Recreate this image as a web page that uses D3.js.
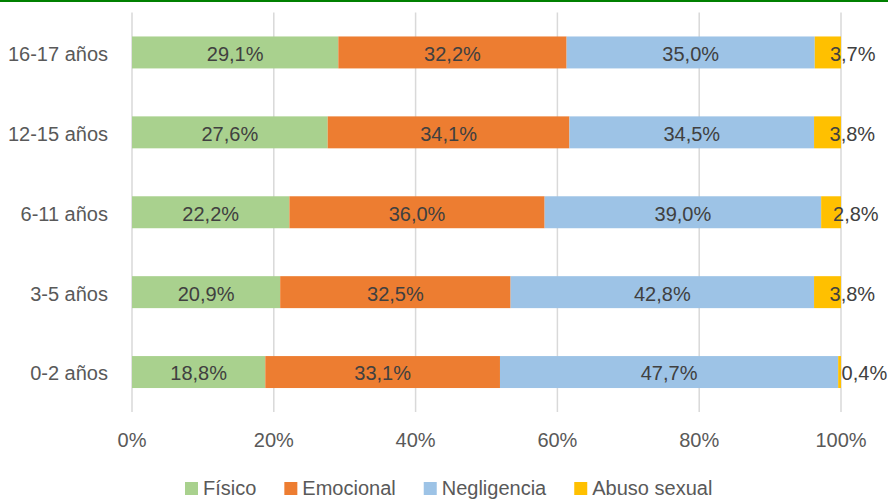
<!DOCTYPE html>
<html>
<head>
<meta charset="utf-8">
<script src="https://cdn.jsdelivr.net/npm/d3@7"></script>
<style>
    body { margin: 0; background: #fff; }
    svg { display: block; font-family: "Liberation Sans", Arial, sans-serif; }
</style>
</head>
<body>
<div id="chart"></div>
<script>
// data
var ageGroups = ["16-17 años", "12-15 años", "6-11 años", "3-5 años", "0-2 años"];
var seriesNames = ["Físico", "Emocional", "Negligencia", "Abuso sexual"];
var fisico      = [29.1, 27.6, 22.2, 20.9, 18.8];
var emocional   = [32.2, 34.1, 36.0, 32.5, 33.1];
var negligencia = [35.0, 34.5, 39.0, 42.8, 47.7];
var abuso       = [3.7, 3.8, 2.8, 3.8, 0.4];
var xTicks = [0, 20, 40, 60, 80, 100];

var colors = ["#A9D18E", "#ED7D31", "#9DC3E6", "#FFC000"];

var width = 888, height = 500;
var margin = {top: 12.5, right: 47, bottom: 88, left: 132};

var svg = d3.select("#chart").append("svg")
    .attr("width", width)
    .attr("height", height);

// green rule at the very top
svg.append("rect")
    .attr("x", 0).attr("y", 0)
    .attr("width", width).attr("height", 2)
    .attr("fill", "#008000");

var rows = ageGroups.map(function(g, i) {
    return {group: g, "Físico": fisico[i], "Emocional": emocional[i],
            "Negligencia": negligencia[i], "Abuso sexual": abuso[i]};
});

var stacked = d3.stack().keys(seriesNames)(rows);

var x = d3.scaleLinear()
    .domain([0, 100])
    .range([margin.left, width - margin.right]);

var y = d3.scaleBand()
    .domain(ageGroups)
    .range([margin.top, height - margin.bottom])
    .paddingInner(0.6)
    .paddingOuter(0.3);

// gridlines
svg.append("g")
    .selectAll("line")
    .data(xTicks)
    .enter().append("line")
    .attr("x1", function(d) { return x(d); })
    .attr("x2", function(d) { return x(d); })
    .attr("y1", margin.top)
    .attr("y2", height - margin.bottom)
    .attr("stroke", "#d9d9d9")
    .attr("stroke-width", 1.5);

// bars
var layer = svg.append("g").selectAll("g")
    .data(stacked)
    .enter().append("g")
    .attr("fill", function(d, i) { return colors[i]; });

layer.selectAll("rect")
    .data(function(d) { return d; })
    .enter().append("rect")
    .attr("x", function(d) { return x(d[0]); })
    .attr("width", function(d) { return x(d[1]) - x(d[0]); })
    .attr("y", function(d) { return y(d.data.group); })
    .attr("height", y.bandwidth());

// value labels
var fmt = function(v) { return v.toFixed(1).replace(".", ",") + "%"; };

stacked.forEach(function(s, si) {
    var last = si === stacked.length - 1;
    svg.append("g").selectAll("text")
        .data(s)
        .enter().append("text")
        .attr("x", function(d) {
            var c = (x(d[0]) + x(d[1])) / 2;
            return last ? c + 2 : c;
        })
        .attr("y", function(d) { return y(d.data.group) + y.bandwidth() / 2; })
        .attr("dy", "0.42em")
        .attr("text-anchor", last ? "start" : "middle")
        .attr("font-size", "20px")
        .attr("fill", "#404040")
        .text(function(d) { return fmt(d[1] - d[0]); });
});

// category labels
svg.append("g").selectAll("text")
    .data(ageGroups)
    .enter().append("text")
    .attr("x", margin.left - 24)
    .attr("y", function(d) { return y(d) + y.bandwidth() / 2; })
    .attr("dy", "0.42em")
    .attr("text-anchor", "end")
    .attr("font-size", "20px")
    .attr("fill", "#595959")
    .text(function(d) { return d; });

// x tick labels
svg.append("g").selectAll("text")
    .data(xTicks)
    .enter().append("text")
    .attr("x", function(d) { return x(d); })
    .attr("y", 447)
    .attr("text-anchor", "middle")
    .attr("font-size", "20px")
    .attr("fill", "#595959")
    .text(function(d) { return d + "%"; });

// legend (kept just inside the bottom edge)
var legend = svg.append("g");
var lx = 185;
seriesNames.forEach(function(name, i) {
    legend.append("rect")
        .attr("x", lx).attr("y", 482)
        .attr("width", 13).attr("height", 13)
        .attr("fill", colors[i]);
    var t = legend.append("text")
        .attr("x", lx + 18)
        .attr("y", 495)
        .attr("font-size", "20px")
        .attr("fill", "#595959")
        .text(name);
    lx += 18 + t.node().getComputedTextLength() + 28;
});
</script>
</body>
</html>
